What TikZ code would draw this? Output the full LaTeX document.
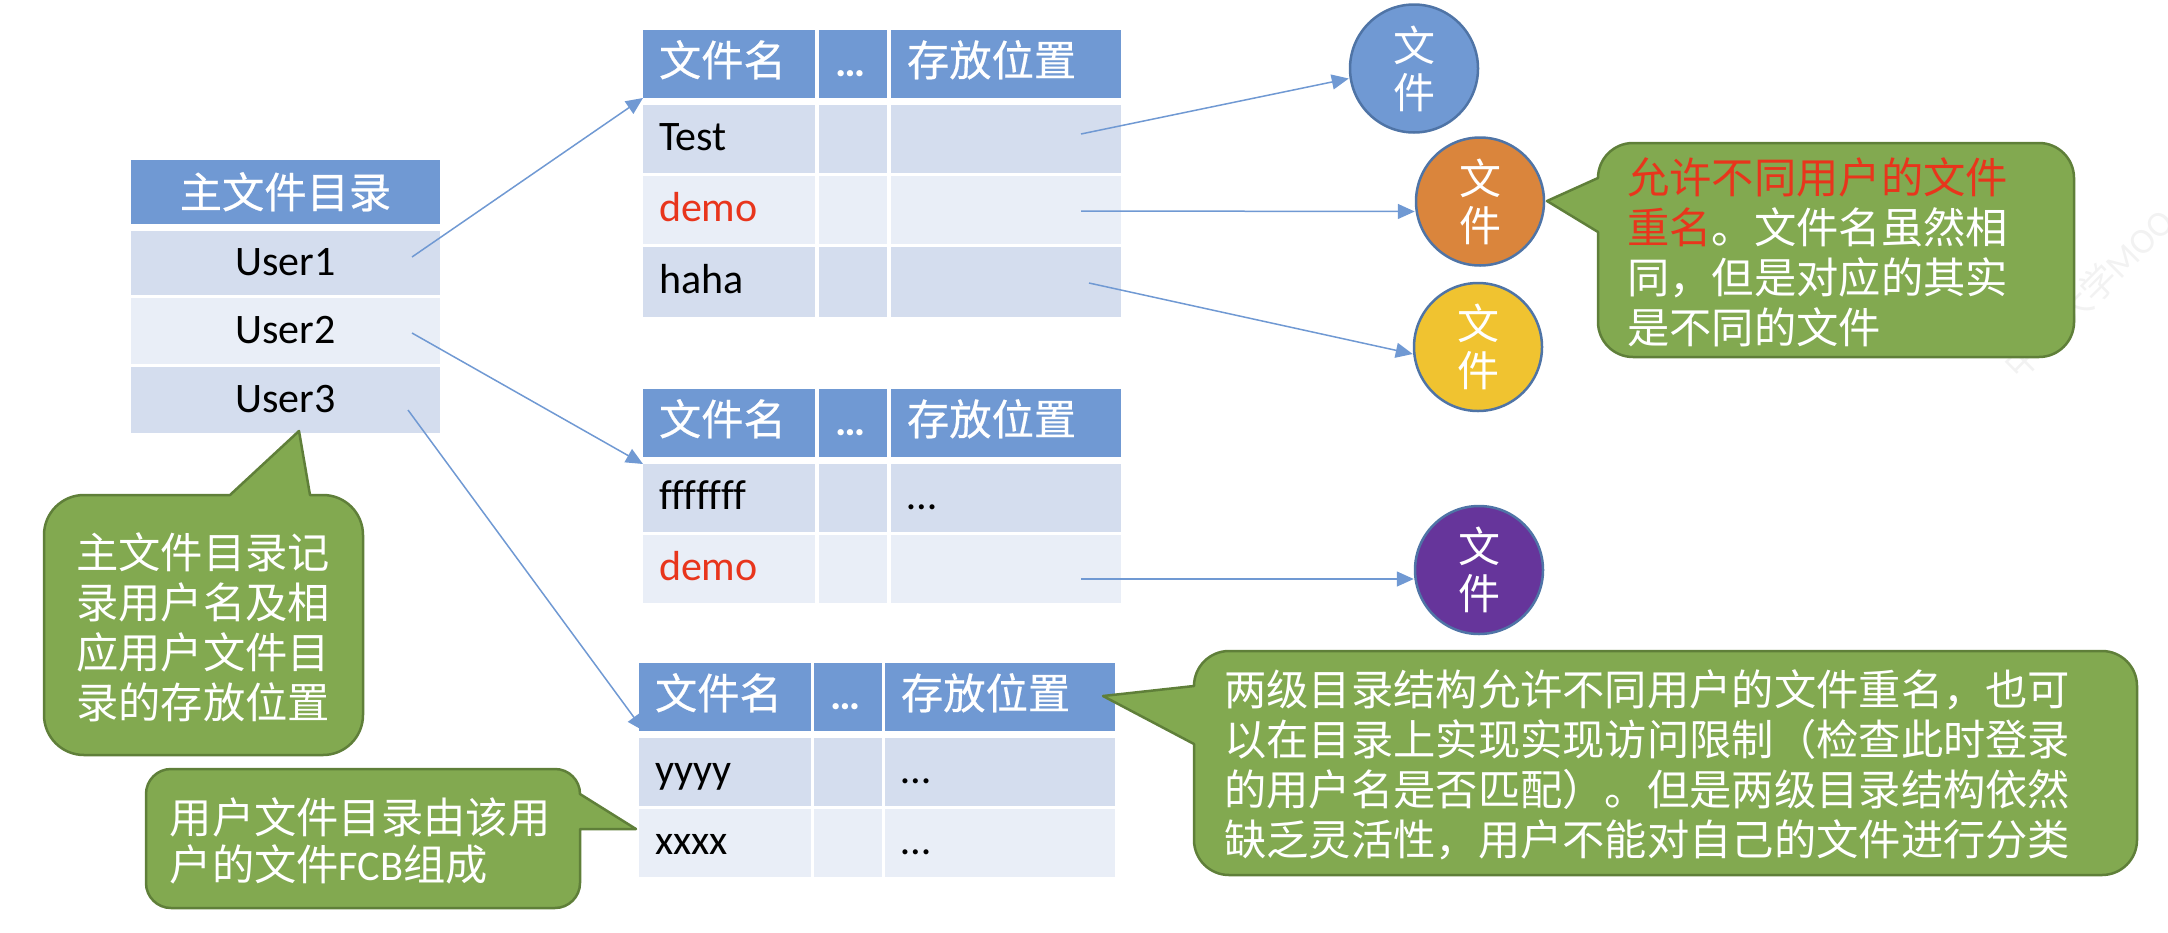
\documentclass[tikz,border=0pt]{standalone}
\usepackage{fontspec}
\setmainfont{Carlito}[Ligatures=NoCommon]
\newfontfamily\cjk{Noto Sans CJK SC}
\newfontfamily\cjkhead{Noto Sans CJK SC}[FakeBold=0.5]
\usetikzlibrary{positioning}
\usetikzlibrary{arrows.meta}
\definecolor{headblue}{HTML}{7099D3}
\definecolor{rowdark}{HTML}{D4DDEE}
\definecolor{rowlight}{HTML}{E9EEF7}
\definecolor{balgreen}{HTML}{82A950}
\definecolor{balline}{HTML}{5F7F39}
\definecolor{alertred}{HTML}{E8351C}
\definecolor{ringblue}{HTML}{4F74A6}
\definecolor{markgray}{HTML}{F2F2F2}
\definecolor{fileorange}{HTML}{DA853C}
\definecolor{fileyellow}{HTML}{F0C330}
\definecolor{filepurple}{HTML}{66359B}
\begin{document}
\begin{tikzpicture}[x=1pt,y=-1pt,
	cell/.style={inner xsep=16pt,inner ysep=0pt,outer sep=0pt,align=left,minimum height=68pt,text height=31pt,text depth=9pt,font=\fontsize{42}{50}\selectfont},
	headcell/.style={cell,fill=headblue,text=white,text height=32pt,text depth=8pt,font=\cjkhead\fontsize{42.3}{50}\selectfont},
	rowd/.style={cell,fill=rowdark},
	rowl/.style={cell,fill=rowlight},
	colname/.style={text width=140pt},
	coldots/.style={text width=36pt},
	colpos/.style={text width=198pt},
	usercell/.style={inner sep=0pt,outer sep=0pt,minimum width=309pt,minimum height=66pt,text height=32pt,text depth=8pt,font=\fontsize{42}{50}\selectfont},
	filenode/.style={circle,draw=ringblue,line width=2.5pt,minimum size=128pt,inner sep=0pt,text=white,align=center,font=\cjk\fontsize{42}{47}\selectfont},
	balloon/.style={draw=balline,fill=balgreen,line width=2.5pt,line join=round},
	baltext/.style={text=white,align=left,inner sep=0pt,anchor=west,font=\cjk\fontsize{42.3}{50}\selectfont},
	link/.style={draw=headblue,line width=1.5pt,-{Triangle[length=17pt,width=15pt]}}
	]
	\useasboundingbox (0,0) rectangle (2168,932);
	\node[rotate=45,anchor=base west,inner sep=0pt,text=markgray,font=\cjk\fontsize{36}{36}\selectfont] (wmark) at (2019,382) {中国大学{\rmfamily MOO}};

	% main directory
	\node[usercell,fill=headblue,text=white,minimum height=64pt,text height=36pt,text depth=4pt,font=\cjkhead\fontsize{42.3}{50}\selectfont] (mainhead) at (285.5,192) {主文件目录};
	\node[usercell,fill=rowdark,minimum height=64pt,below=7pt of mainhead] (user1) {User1};
	\node[usercell,fill=rowlight,below=3pt of user1] (user2) {User2};
	\node[usercell,fill=rowdark,below=3pt of user2] (user3) {User3};

	% first user
	\node[headcell,colname] (t1name) at (729,64) {文件名};
	\node[headcell,coldots,right=4pt of t1name] (t1dots) {{\rmfamily\bfseries …}};
	\node[headcell,colpos,right=4pt of t1dots] (t1pos) {存放位置};
	\node[rowd,colname,below=7pt of t1name] (t1n1) {Test};
	\node[rowd,coldots,below=7pt of t1dots] (t1d1) {};
	\node[rowd,colpos,below=7pt of t1pos] (t1p1) {};
	\node[rowl,colname,below=3pt of t1n1,text=alertred] (t1n2) {demo};
	\node[rowl,coldots,below=3pt of t1d1] (t1d2) {};
	\node[rowl,colpos,below=3pt of t1p1] (t1p2) {};
	\node[rowd,colname,below=3pt of t1n2,minimum height=70pt] (t1n3) {haha};
	\node[rowd,coldots,below=3pt of t1d2,minimum height=70pt] (t1d3) {};
	\node[rowd,colpos,below=3pt of t1p2,minimum height=70pt] (t1p3) {};

	% second user
	\node[headcell,colname] (t2name) at (729,423) {文件名};
	\node[headcell,coldots,right=4pt of t2name] (t2dots) {{\rmfamily\bfseries …}};
	\node[headcell,colpos,right=4pt of t2dots] (t2pos) {存放位置};
	\node[rowd,colname,below=7pt of t2name] (t2n1) {fffffff};
	\node[rowd,coldots,below=7pt of t2dots] (t2d1) {};
	\node[rowd,colpos,below=7pt of t2pos] (t2p1) {…};
	\node[rowl,colname,below=3pt of t2n1,text=alertred] (t2n2) {demo};
	\node[rowl,coldots,below=3pt of t2d1] (t2d2) {};
	\node[rowl,colpos,below=3pt of t2p1] (t2p2) {};

	% the head of this arrow lies under the third table
	\coordinate (t3tip) at (644,731);
	\draw[link] ([xshift=-32pt,yshift=-10pt]user3.east) -- (t3tip);

	% third user
	\node[headcell,colname] (t3name) at (725,697) {文件名};
	\node[headcell,coldots,right=3pt of t3name] (t3dots) {{\rmfamily\bfseries …}};
	\node[headcell,colpos,right=3pt of t3dots] (t3pos) {存放位置};
	\node[rowd,colname,below=7pt of t3name] (t3n1) {yyyy};
	\node[rowd,coldots,below=7pt of t3dots] (t3d1) {};
	\node[rowd,colpos,below=7pt of t3pos] (t3p1) {…};
	\node[rowl,colname,below=3pt of t3n1] (t3n2) {xxxx};
	\node[rowl,coldots,below=3pt of t3d1] (t3d2) {};
	\node[rowl,colpos,below=3pt of t3p1] (t3p2) {…};

	% files
	\node[filenode,fill=headblue] (f1) at (1414,68.5) {文\\件};
	\node[filenode,fill=fileorange] (f2) at (1480,201.5) {文\\件};
	\node[filenode,fill=fileyellow] (f3) at (1478,347) {文\\件};
	\node[filenode,fill=filepurple] (f4) at (1479,570) {文\\件};

	\draw[link] ([xshift=-28pt,yshift=6pt]user1.east) -- (t1name.south west);
	\draw[link] ([xshift=-28pt,yshift=-2pt]user2.east) -- (t2n1.north west);
	\draw[link] ([xshift=-40pt,yshift=5pt]t1p1.east) -- ([yshift=-10pt]f1.west);
	\draw[link] ([xshift=-40pt,yshift=-1pt]t1p2.east) -- ([yshift=-10pt]f2.west);
	\draw[link] ([xshift=-32pt,yshift=-1pt]t1p3.east) -- ([yshift=-7pt]f3.west);
	\draw[link] ([xshift=-40pt,yshift=-10pt]t2p2.east) -- ([yshift=-9pt]f4.west);

	% callouts
	\draw[balloon] (44,535) arc[start angle=180,end angle=90,radius=40pt] -- (230,495) -- (299,431) -- (310,495) -- (323,495) arc[start angle=90,end angle=0,radius=40pt] -- (363,715) arc[start angle=0,end angle=-90,radius=40pt] -- (84,755) arc[start angle=-90,end angle=-180,radius=40pt] -- cycle;
	\node[baltext] (notemain) at (76,627) {主文件目录记\\录用户名及相\\应用户文件目\\录的存放位置};

	\draw[balloon] (1598,178) arc[start angle=180,end angle=90,radius=35pt] -- (2039,143) arc[start angle=90,end angle=0,radius=35pt] -- (2074,322) arc[start angle=0,end angle=-90,radius=35pt] -- (1633,357) arc[start angle=-90,end angle=-180,radius=35pt] -- (1598,232) -- (1547,201) -- cycle;
	\node[baltext] (notename) at (1627,252) {{\color{alertred}允许不同用户的文件}\\{\color{alertred}重名}。文件名虽然相\\同，但是对应的其实\\是不同的文件};

	\draw[balloon] (146,794) arc[start angle=180,end angle=90,radius=25pt] -- (555,769) arc[start angle=90,end angle=0,radius=25pt] -- (636,829) -- (580,829) -- (580,883) arc[start angle=0,end angle=-90,radius=25pt] -- (171,908) arc[start angle=-90,end angle=-180,radius=25pt] -- cycle;
	\node[baltext,font=\cjk\fontsize{42.3}{47}\selectfont] (notefcb) at (169.5,841) {用户文件目录由该用\\户的文件{\rmfamily FCB}组成};

	\draw[balloon] (1194,686) arc[start angle=180,end angle=90,radius=35pt] -- (2102,651) arc[start angle=90,end angle=0,radius=35pt] -- (2137,840) arc[start angle=0,end angle=-90,radius=35pt] -- (1229,875) arc[start angle=-90,end angle=-180,radius=35pt] -- (1194,744) -- (1103,696) -- cycle;
	\node[baltext] (notetwo) at (1224,765) {两级目录结构允许不同用户的文件重名，也可\\以在目录上实现实现访问限制（检查此时登录\\的用户名是否匹配）。但是两级目录结构依然\\缺乏灵活性，用户不能对自己的文件进行分类};
\end{tikzpicture}
\end{document}
